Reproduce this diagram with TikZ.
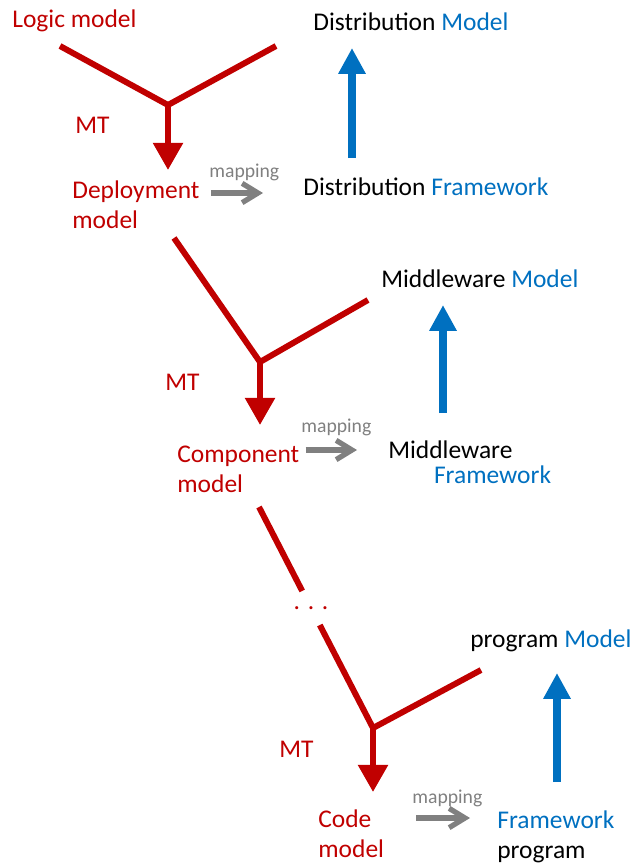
\documentclass[tikz,border=0pt]{standalone}
\usepackage{fontspec}
\setmainfont{Carlito}
\usetikzlibrary{arrows.meta,calc}
\definecolor{mtred}{HTML}{C00000}
\definecolor{fwblue}{HTML}{0070C0}
\definecolor{mapgray}{HTML}{808080}
\begin{document}
\begin{tikzpicture}[x=0.02cm,y=-0.02cm,
  every node/.style={inner sep=0pt,anchor=base west,font=\fontsize{14.5}{17}\selectfont},
  redlbl/.style={text=mtred},
  armline/.style={draw=mtred,line width=3.4pt},
  mtarrow/.style={armline,-{Triangle[length=15.5pt,width=16.5pt]}},
  uparrow/.style={draw=fwblue,line width=4pt,-{Triangle[length=14.7pt,width=14.7pt]}},
  maparrow/.style={draw=mapgray,line width=3pt,-{Straight Barb[length=9pt,width=11pt,line width=3pt]}},
  maplbl/.style={text=mapgray,font=\fontsize{11.2}{13}\selectfont},
  dotsnode/.style={anchor=center,text=mtred,minimum height=19pt}]

\useasboundingbox (0,0) rectangle (635,863);

\node[redlbl] (logic) at (12,27) {Logic model};

\coordinate (l1) at (60,46);

\coordinate (r1) at (276,46);

\coordinate (j1) at (168,105);

\node[redlbl] (mt1) at (75,133) {MT};

\node[redlbl,align=left] (deploy) at (72,228) {Deployment\\model};

\node[maplbl] (map1) at (209,177) {mapping};

\node (distfw) at (303,195) {Distribution \textcolor{fwblue}{Framework}};

\node (distmd) at (313,30) {Distribution \textcolor{fwblue}{Model}};

\coordinate (l2) at (174,238);

\coordinate (r2) at (368,300);

\coordinate (j2) at (260,362);

\node[redlbl] (mt2) at (165,390) {MT};

\node[redlbl,align=left] (comp) at (177,492) {Component\\model};

\node[maplbl] (map2) at (301,432) {mapping};

\node[align=left] (mwfw) at (388,483) {Middleware\\[-3pt]\hspace*{26pt}\textcolor{fwblue}{Framework}};

\node (mwmd) at (381,287) {Middleware \textcolor{fwblue}{Model}};

\coordinate (c3) at (259,507);

\node[dotsnode] (dots) at (311,608) {. . .};

\coordinate (r3) at (481,670);

\coordinate (j3) at (373,728);

\node[redlbl] (mt3) at (279,757) {MT};

\node[redlbl,align=left] (code) at (318,857) {Code\\model};

\node[maplbl] (map3) at (412,803) {mapping};

\node[align=left] (fwprog) at (497,858) {\textcolor{fwblue}{Framework}\\program};

\node (pgmd) at (470,647) {program \textcolor{fwblue}{Model}};

\draw[armline] (l1) -- (j1) -- (r1);
\draw[mtarrow] (j1) -- ($(j1 |- deploy.base)+(0,-58)$);
\draw[maparrow] ([shift={(11,-35)}]deploy.base east) -- ([shift={(-40,-2)}]distfw.base west);
\draw[uparrow] ([shift={(49,-37)}]distfw.base west) -- ([shift={(39,18)}]distmd.base west);

\draw[armline] (l2) -- (j2) -- (r2);
\draw[mtarrow] (j2) -- ($(j2 |- comp.base)+(0,-67)$);
\draw[maparrow] ([shift={(6,-42)}]comp.base east) -- ([shift={(-31,-33)}]mwfw.base west);
\draw[uparrow] ([shift={(55,-70)}]mwfw.base west) -- ([shift={(62,18)}]mwmd.base west);

\draw[armline] (c3) -- (dots);
\draw[armline] (dots) -- (j3) -- (r3);
\draw[mtarrow] (j3) -- ($(j3 |- code.base)+(0,-65)$);
\draw[maparrow] ([shift={(32,-39)}]code.base east) -- ([shift={(-27,-40)}]fwprog.base west);
\draw[uparrow] ([shift={(60,-76)}]fwprog.base west) -- ([shift={(87,26)}]pgmd.base west);
\end{tikzpicture}
\end{document}
